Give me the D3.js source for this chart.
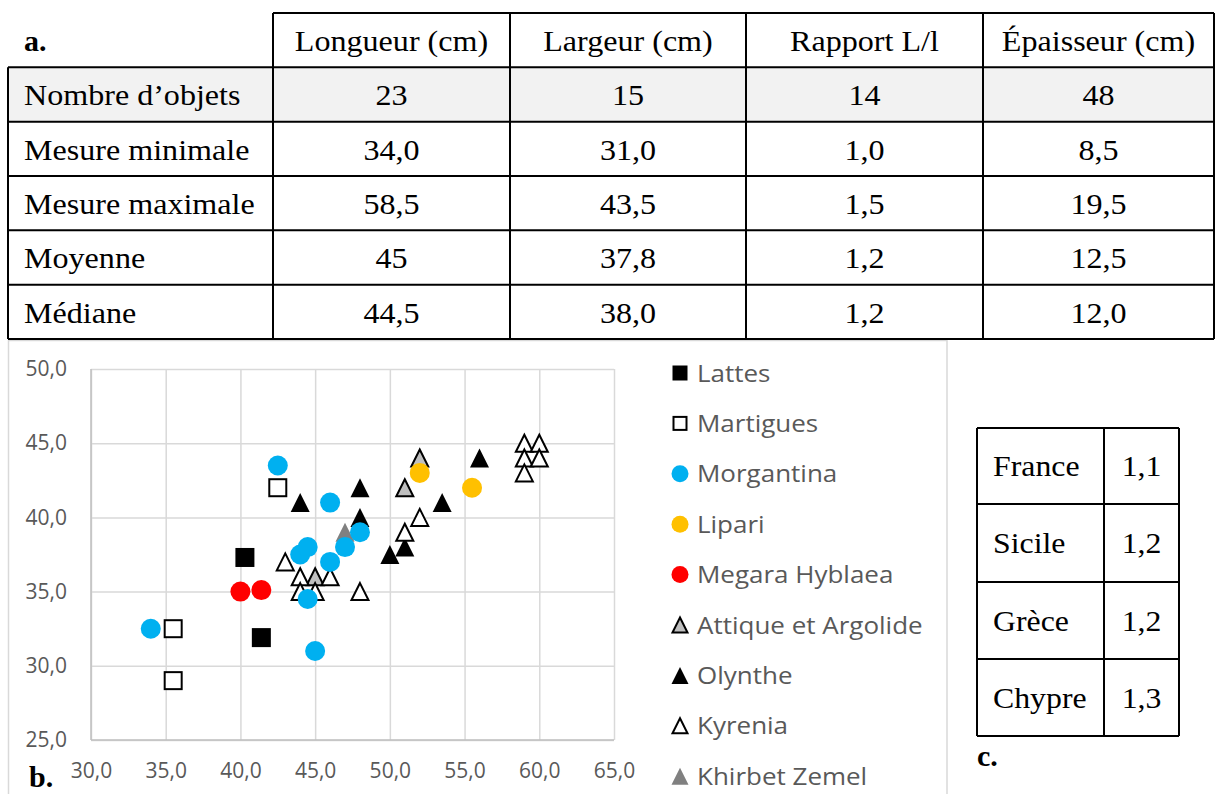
<!DOCTYPE html>
<html><head><meta charset="utf-8">
<script src="https://cdn.jsdelivr.net/npm/d3@7"></script>
<style>html,body{margin:0;padding:0;background:#fff;overflow:hidden}</style>
</head><body>
<svg id="c" width="1215" height="794"></svg>
<script>
// ---- Table a ----
const tableColumns = ["Longueur (cm)", "Largeur (cm)", "Rapport L/l", "Épaisseur (cm)"];
const tableRowLabels = ["Nombre d’objets", "Mesure minimale", "Mesure maximale", "Moyenne", "Médiane"];
const longueurValues = ["23", "34,0", "58,5", "45", "44,5"];
const largeurValues = ["15", "31,0", "43,5", "37,8", "38,0"];
const rapportValues = ["14", "1,0", "1,5", "1,2", "1,2"];
const epaisseurValues = ["48", "8,5", "19,5", "12,5", "12,0"];
// ---- Table c ----
const regionNames = ["France", "Sicile", "Grèce", "Chypre"];
const regionRatios = ["1,1", "1,2", "1,2", "1,3"];
// ---- Scatter b: [longueur, largeur] ----
const seriesNames = ["Lattes", "Martigues", "Morgantina", "Lipari", "Megara Hyblaea", "Attique et Argolide", "Olynthe", "Kyrenia", "Khirbet Zemel"];
const lattes = [[40.3, 37.3], [41.4, 31.9]];
const martigues = [[42.5, 42.0], [35.5, 32.5], [35.5, 29.0]];
const morgantina = [[34, 32.5], [42.5, 43.5], [46, 41], [44, 37.5], [44.5, 38], [46, 37], [47, 38], [48, 39], [44.5, 34.5], [45, 31]];
const lipari = [[52, 43], [55.5, 42]];
const megara = [[40, 35], [41.4, 35.1]];
const attique = [[52, 44], [51, 42], [45, 36]];
const olynthe = [[44, 41], [48, 42], [48, 40], [50, 37.5], [51, 38], [53.5, 41], [56, 44]];
const kyrenia = [[43, 37], [44, 36], [44, 35], [45, 35], [46, 36], [48, 35], [51, 39], [52, 40], [59, 45], [60, 45], [59, 44], [60, 44], [59, 43]];
const khirbet = [[47, 39]];
const xTicks = [30, 35, 40, 45, 50, 55, 60, 65];
const yTicks = [25, 30, 35, 40, 45, 50];

const svg = d3.select("#c");
const serif = "'Liberation Serif','Times New Roman',serif";
const sans = "'Open Sans','Segoe UI',sans-serif";

function stext(g, x, y, txt, opts) {
  const sx = opts.sx || 1;
  return g.append("text")
    .attr("transform", `translate(${x},${y}) scale(${sx},1)`)
    .attr("text-anchor", opts.anchor || "start")
    .style("font-family", opts.family || serif)
    .style("font-size", (opts.size || 30) + "px")
    .style("font-weight", opts.bold ? "bold" : "normal")
    .style("fill", opts.fill || "#000")
    .text(txt);
}

// ===== Table a =====
const ta = svg.append("g");
const colX = [8, 273, 510, 746, 983, 1214];
const rowY = d3.range(7).map(i => 13 + i * (339 - 13) / 6);
ta.append("rect").attr("x", 8).attr("y", rowY[1]).attr("width", 1214 - 8).attr("height", rowY[2] - rowY[1]).attr("fill", "#f2f2f2");
rowY.forEach((y, i) => {
  ta.append("line").attr("x1", i === 0 ? colX[1] : colX[0]).attr("x2", colX[5]).attr("y1", y).attr("y2", y)
    .attr("stroke", "#000").attr("stroke-width", 2);
});
colX.forEach((x, j) => {
  ta.append("line").attr("x1", x).attr("x2", x).attr("y1", j === 0 ? rowY[1] : rowY[0]).attr("y2", rowY[6])
    .attr("stroke", "#000").attr("stroke-width", 2);
});
stext(ta, 24, rowY[0] + 38, "a.", {bold: true, size: 30, sx: 1.0});
tableColumns.forEach((c, j) => stext(ta, (colX[j + 1] + colX[j + 2]) / 2, rowY[0] + 38, c, {anchor: "middle", sx: 1.07}));
const colsVals = [longueurValues, largeurValues, rapportValues, epaisseurValues];
tableRowLabels.forEach((r, i) => {
  stext(ta, 24, rowY[i + 1] + 38, r, {sx: 1.07});
  colsVals.forEach((vals, j) => stext(ta, (colX[j + 1] + colX[j + 2]) / 2, rowY[i + 1] + 38, vals[i], {anchor: "middle", sx: 1.07}));
});

// ===== Chart b =====
const cb = svg.append("g");
cb.append("rect").attr("x", 8.5).attr("y", 340.5).attr("width", 947 - 8.5).attr("height", 470)
  .attr("fill", "#fff").attr("stroke", "#d9d9d9").attr("stroke-width", 1.5);
svg.append("line").attr("x1", 8).attr("x2", 1214).attr("y1", 339).attr("y2", 339).attr("stroke", "#000").attr("stroke-width", 2);

const x = d3.scaleLinear().domain([30, 65]).range([91, 614]);
const y = d3.scaleLinear().domain([25, 50]).range([740, 369]);
const fmt = d => d3.format(".1f")(d).replace(".", ",");

const gridX = cb.append("g").attr("transform", "translate(0,740)")
  .call(d3.axisBottom(x).tickValues(xTicks).tickSize(-(740 - 369)).tickFormat(""));
const gridY = cb.append("g").attr("transform", "translate(91,0)")
  .call(d3.axisLeft(y).tickValues(yTicks).tickSize(-(614 - 91)).tickFormat(""));
[gridX, gridY].forEach(g => {
  g.select(".domain").remove();
  g.selectAll(".tick line").attr("stroke", "#d9d9d9").attr("stroke-width", 1.5);
});
cb.append("line").attr("x1", 91).attr("x2", 91).attr("y1", 369).attr("y2", 740).attr("stroke", "#bfbfbf").attr("stroke-width", 1.5);
cb.append("line").attr("x1", 91).attr("x2", 614).attr("y1", 740).attr("y2", 740).attr("stroke", "#bfbfbf").attr("stroke-width", 1.5);

const axX = cb.append("g").attr("transform", "translate(0,740)")
  .call(d3.axisBottom(x).tickValues(xTicks).tickSize(0).tickPadding(23).tickFormat(fmt));
const axY = cb.append("g").attr("transform", "translate(91,0)")
  .call(d3.axisLeft(y).tickValues(yTicks).tickSize(0).tickPadding(24).tickFormat(fmt));
[axX, axY].forEach(g => {
  g.select(".domain").remove();
  g.selectAll("text").style("font-family", sans).style("font-size", "21px").attr("fill", "#595959");
});

stext(cb, 29, 787, "b.", {bold: true, size: 30, sx: 1.0});

const styles = {
  "Lattes": {shape: "square", fill: "#000", stroke: "none"},
  "Martigues": {shape: "square", fill: "#fff", stroke: "#000"},
  "Morgantina": {shape: "circle", fill: "#00b0f0", stroke: "none"},
  "Lipari": {shape: "circle", fill: "#ffc000", stroke: "none"},
  "Megara Hyblaea": {shape: "circle", fill: "#ff0000", stroke: "none"},
  "Attique et Argolide": {shape: "triangle", fill: "#bfbfbf", stroke: "#000"},
  "Olynthe": {shape: "triangle", fill: "#000", stroke: "none"},
  "Kyrenia": {shape: "triangle", fill: "#fff", stroke: "#000"},
  "Khirbet Zemel": {shape: "triangle", fill: "#808080", stroke: "none"}
};
const seriesData = {
  "Lattes": lattes, "Martigues": martigues, "Morgantina": morgantina, "Lipari": lipari,
  "Megara Hyblaea": megara, "Attique et Argolide": attique, "Olynthe": olynthe,
  "Kyrenia": kyrenia, "Khirbet Zemel": khirbet
};
function drawMarker(g, cx, cy, st, size) {
  const h = size / 2;
  const sw = st.stroke === "none" ? 0 : 2;
  const inset = sw / 2;
  let el;
  if (st.shape === "square") {
    el = g.append("rect").attr("x", cx - h + inset).attr("y", cy - h + inset).attr("width", size - sw).attr("height", size - sw);
  } else if (st.shape === "circle") {
    el = g.append("circle").attr("cx", cx).attr("cy", cy).attr("r", h);
  } else {
    const a = h - inset;
    el = g.append("path").attr("d", `M${cx},${cy - a}L${cx + a},${cy + a}L${cx - a},${cy + a}Z`);
  }
  el.attr("fill", st.fill).attr("stroke", st.stroke).attr("stroke-width", sw).attr("stroke-linejoin", "miter");
}
const drawOrder = ["Attique et Argolide", "Olynthe", "Kyrenia", "Khirbet Zemel", "Lattes", "Martigues", "Morgantina", "Lipari", "Megara Hyblaea"];
const pts = cb.append("g");
drawOrder.forEach(name => {
  seriesData[name].forEach(d => drawMarker(pts, x(d[0]), y(d[1]), styles[name], styles[name].shape === "circle" ? 20 : 19));
});

const lg = cb.append("g");
seriesNames.forEach((name, i) => {
  const cy = 373 + i * 50.4;
  const st = styles[name];
  drawMarker(lg, 680, cy, st, st.shape === "square" ? 15 : 17);
  stext(lg, 697, cy + 8.5, name, {family: sans, size: 23, sx: 1.13, fill: "#595959"});
});

// ===== Table c =====
const tc = svg.append("g");
const cX = [977, 1104, 1179];
const cY = [428, 504, 582, 659, 736];
cY.forEach(yy => tc.append("line").attr("x1", cX[0]).attr("x2", cX[2]).attr("y1", yy).attr("y2", yy).attr("stroke", "#000").attr("stroke-width", 2));
cX.forEach(xx => tc.append("line").attr("x1", xx).attr("x2", xx).attr("y1", cY[0]).attr("y2", cY[4]).attr("stroke", "#000").attr("stroke-width", 2));
regionNames.forEach((r, i) => {
  const mid = (cY[i] + cY[i + 1]) / 2;
  stext(tc, 993, mid + 10, r, {sx: 1.06});
  stext(tc, (cX[1] + cX[2]) / 2, mid + 10, regionRatios[i], {anchor: "middle", sx: 1.06});
});
stext(tc, 977, 766, "c.", {bold: true, size: 30, sx: 1.0});
</script>
</body></html>
